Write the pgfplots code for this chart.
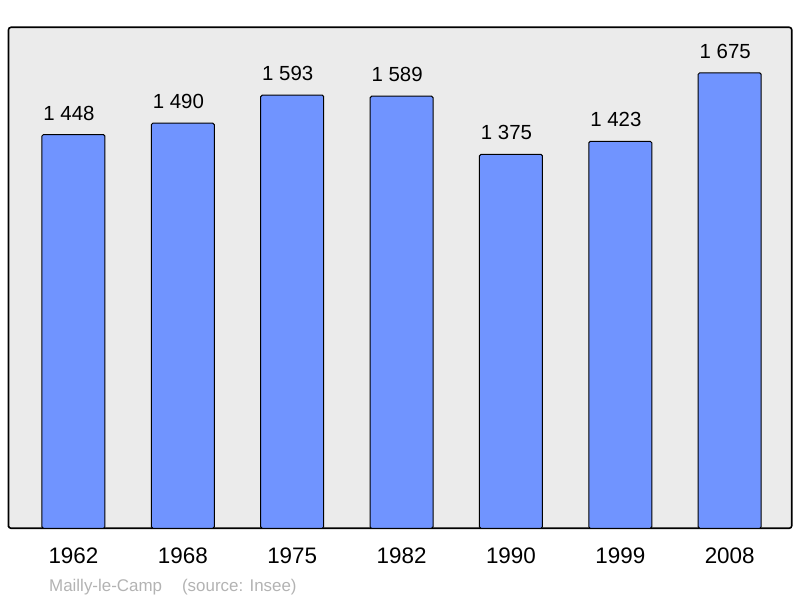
\documentclass[border=0pt]{standalone}
\usepackage{pgfplots}
\pgfplotsset{compat=1.18}
\usepackage{fontspec}
\setmainfont{Liberation Sans}
\definecolor{barblue}{HTML}{7094FF}
\definecolor{bggray}{HTML}{EBEBEB}
\definecolor{srcgray}{HTML}{B3B3B3}
\begin{document}
\begin{tikzpicture}[x=1bp,y=1bp]
\path[use as bounding box] (0,0) rectangle (800,598);
\begin{axis}[
  at={(8.5bp,69.7bp)}, anchor=south west,
  scale only axis, width=783.2bp, height=501bp,
  xmin=-0.594, xmax=6.567, ymin=0, ymax=1842.5,
  axis background/.style={fill=bggray, rounded corners=2bp},
  axis line style={line width=1.6bp, rounded corners=2.5bp},
  ybar, bar width=63bp,
  xtick={0,...,6},
  xticklabels={1962,1968,1975,1982,1990,1999,2008},
  ytick=\empty,
  major tick length=0pt,
  xticklabel style={anchor=base, inner sep=0pt, yshift=-35.7bp, font=\fontsize{22.5}{26}\selectfont},
  /pgf/number format/.cd, 1000 sep={\ }, assume math mode=true,
  /pgfplots/.cd,
  nodes near coords,
  every node near coord/.append style={anchor=base, inner sep=0pt, yshift=14.5bp, xshift=-4.5bp, font=\fontsize{20.5}{24}\selectfont, text=black},
]
\addplot[draw=black, line width=1bp, fill=barblue, rounded corners=1.5bp] coordinates {
  (0,1448) (1,1490) (2,1593) (3,1589) (4,1375) (5,1423) (6,1675)
};
\end{axis}
\node[anchor=base west, inner sep=0pt, text=srcgray, font=\fontsize{17}{20}\selectfont] at (49,6.3) {Mailly-le-Camp\hspace{20bp}(source: Insee)};
\end{tikzpicture}
\end{document}
